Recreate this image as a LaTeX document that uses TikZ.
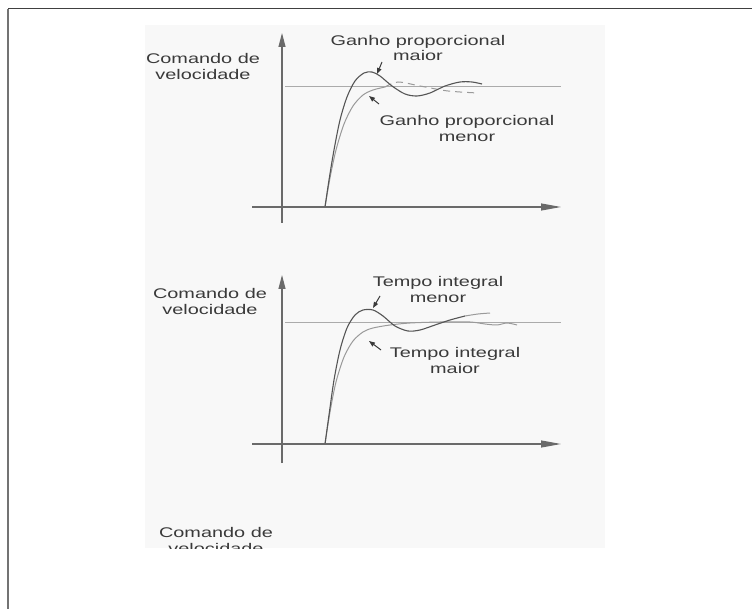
\documentclass[tikz,border=0pt]{standalone}
\usepackage{fontspec}
\setmainfont[FakeStretch=1.42]{Liberation Sans}
\usetikzlibrary{arrows.meta}
\definecolor{panelbg}{HTML}{F8F8F8}
\definecolor{ink}{HTML}{3A3A3A}
\definecolor{axisgrey}{HTML}{6A6A6A}
\definecolor{refgrey}{HTML}{ABABAB}
\definecolor{curvedark}{HTML}{555555}
\definecolor{curvelight}{HTML}{9A9A9A}
\tikzset{
  lbl/.style={font=\fontsize{14}{16}\selectfont, text=ink, align=center, inner sep=0pt},
  axisline/.style={draw=axisgrey, line width=1.1pt},
  xarrow/.style={axisline, -{Triangle[length=20pt,width=7pt]}},
  yarrow/.style={axisline, -{Triangle[length=14pt,width=7pt]}},
  refline/.style={draw=refgrey, line width=0.9pt},
  fastcurve/.style={draw=curvedark, line width=1.1pt},
  slowcurve/.style={draw=curvelight, line width=1pt},
  pointer/.style={draw=ink, line width=1pt, -{Triangle[length=6pt,width=4.5pt]}},
}
\begin{document}
\begin{tikzpicture}[x=1pt,y=-1pt]
\useasboundingbox (0,0) rectangle (752,609);
\fill[white] (0,0) rectangle (752,609);
% outer frame (top and left edges)
\draw[draw=black!75, line width=1pt] (8,9) -- (752,9);
\draw[draw=black!55, line width=2pt] (8,9) -- (8,609);
% light panel
\fill[panelbg] (145,25) rectangle (605,548);

% ---------- upper chart: proportional gain ----------
\coordinate (a0) at (282,223);
\coordinate (a1) at (282,33);
\coordinate (b0) at (252,207);
\coordinate (b1) at (561,207);
\coordinate (r0) at (285,86);
\coordinate (r1) at (561,86);
\draw[refline] (r0) -- (r1);
\draw[yarrow] (a0) -- (a1);
\draw[xarrow] (b0) -- (b1);
\draw[slowcurve] plot[smooth] coordinates {(325,207) (330,178) (336,150) (344,124) (353,106) (363,95) (373,90) (385,87)};
\draw[slowcurve, dashed, dash pattern=on 7pt off 5pt] plot[smooth] coordinates {(385,87) (398,82) (420,86) (448,91) (478,93)};
\draw[fastcurve] plot[smooth] coordinates {(325,207) (329,180) (334,150) (340,120) (347,97) (355,81) (364,73) (372,72) (380,76) (392,86) (405,94) (417,96) (430,93) (445,86) (460,82) (472,82) (482,84)};
\node[lbl] (c1) at (203,66) {Comando de\\velocidade};
\node[lbl] (g1) at (418,48) {Ganho proporcional\\maior};
\node[lbl] (g2) at (467,128) {Ganho proporcional\\menor};
\coordinate (p1s) at (382,62);
\coordinate (p1e) at (377,74);
\coordinate (p2s) at (379,104);
\coordinate (p2e) at (369,96);
\draw[pointer] (p1s) -- (p1e);
\draw[pointer] (p2s) -- (p2e);

% ---------- lower chart: integral time ----------
\coordinate (d0) at (282,463);
\coordinate (d1) at (282,275);
\coordinate (e0) at (252,444);
\coordinate (e1) at (561,444);
\coordinate (s0) at (285,322);
\coordinate (s1) at (561,322);
\draw[refline] (s0) -- (s1);
\draw[yarrow] (d0) -- (d1);
\draw[xarrow] (e0) -- (e1);
\draw[slowcurve] plot[smooth] coordinates {(325,444) (330,412) (336,382) (344,357) (353,341) (363,332) (373,328) (390,325) (410,323) (440,322) (470,322) (485,324) (497,325) (507,323) (517,325)};
\draw[fastcurve] plot[smooth] coordinates {(325,444) (329,415) (334,380) (340,350) (347,328) (355,315) (363,310) (373,310) (383,316) (395,326) (408,331) (420,330) (435,325) (450,320) (465,316)};
\draw[slowcurve] plot[smooth] coordinates {(465,316) (478,314) (490,313)};
\node[lbl] (c2) at (210,301) {Comando de\\velocidade};
\node[lbl] (t1) at (438,289) {Tempo integral\\menor};
\node[lbl] (t2) at (455,360) {Tempo integral\\maior};
\coordinate (q1s) at (380,296);
\coordinate (q1e) at (373,308);
\coordinate (q2s) at (381,350);
\coordinate (q2e) at (369,341);
\draw[pointer] (q1s) -- (q1e);
\draw[pointer] (q2s) -- (q2e);

% ---------- caption cut off by the panel edge ----------
\begin{scope}
  \clip (145,25) rectangle (605,548);
  \node[lbl] (c3) at (216,540) {Comando de\\velocidade};
\end{scope}
\end{tikzpicture}
\end{document}
